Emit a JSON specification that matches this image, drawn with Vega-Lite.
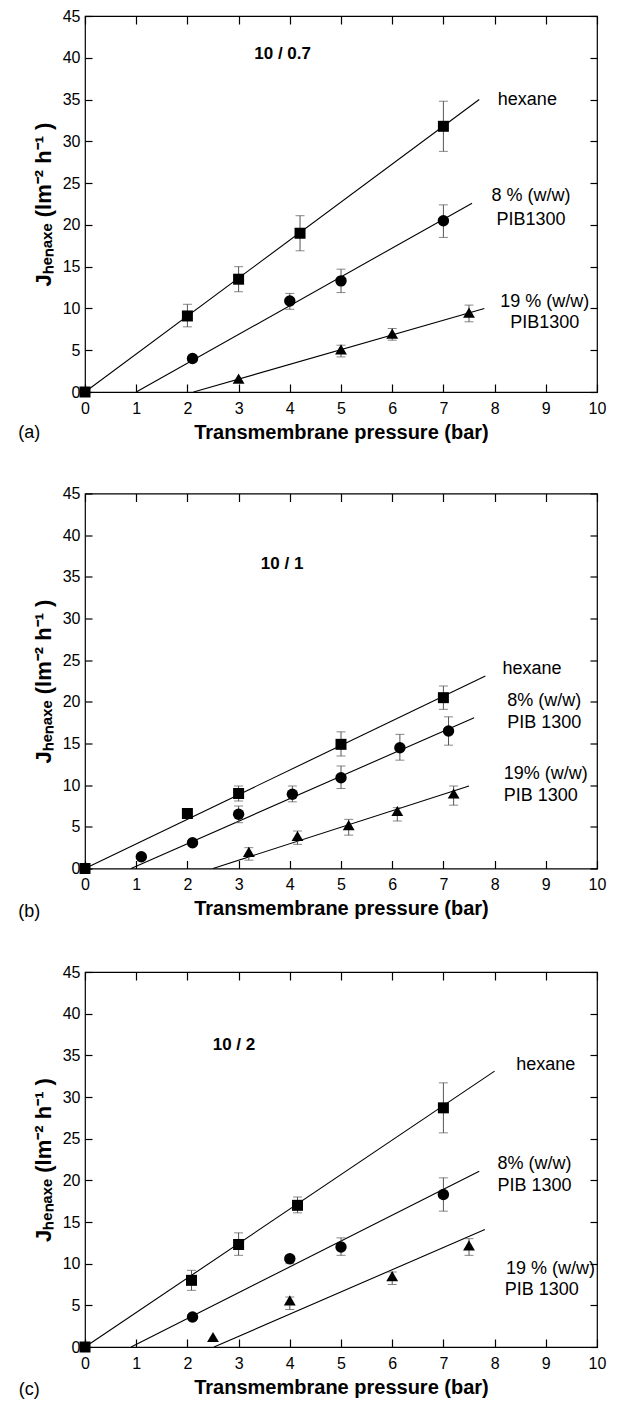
{
  "$schema": "https://vega.github.io/schema/vega-lite/v6.json",
  "padding": {"top": 7, "left": 17, "right": 0, "bottom": 0},
  "spacing": 41.5,
  "config": {
    "view": {"stroke": "black", "strokeWidth": 1.2},
    "font": "Liberation Sans",
    "axis": {"grid": false, "domain": false, "tickColor": "black", "tickWidth": 1.2, "labelColor": "black", "labelFont": "Liberation Sans", "labelFontSize": 16, "labelFlush": false, "titleColor": "black", "titleFont": "Liberation Sans", "titleFontWeight": "bold", "titleFontSize": 20}
  },
  "datasets": {
    "pts": [
      {"panel": "a", "series": "hexane", "p": 0, "J": 0},
      {"panel": "a", "series": "hexane", "p": 2, "J": 9.1, "lo": 7.8, "hi": 10.5},
      {"panel": "a", "series": "hexane", "p": 3, "J": 13.5, "lo": 12.0, "hi": 15.0},
      {"panel": "a", "series": "hexane", "p": 4.2, "J": 19.0, "lo": 16.9, "hi": 21.1},
      {"panel": "a", "series": "hexane", "p": 7, "J": 31.8, "lo": 28.8, "hi": 34.8},
      {"panel": "a", "series": "8%", "p": 2.1, "J": 4.0},
      {"panel": "a", "series": "8%", "p": 4.0, "J": 10.9, "lo": 9.9, "hi": 11.8},
      {"panel": "a", "series": "8%", "p": 5.0, "J": 13.3, "lo": 11.9, "hi": 14.7},
      {"panel": "a", "series": "8%", "p": 7.0, "J": 20.5, "lo": 18.5, "hi": 22.4},
      {"panel": "a", "series": "19%", "p": 3.0, "J": 1.6},
      {"panel": "a", "series": "19%", "p": 5.0, "J": 5.1, "lo": 4.2, "hi": 5.6},
      {"panel": "a", "series": "19%", "p": 6.0, "J": 7.0, "lo": 6.2, "hi": 7.6},
      {"panel": "a", "series": "19%", "p": 7.5, "J": 9.5, "lo": 8.4, "hi": 10.4},
      {"panel": "b", "series": "hexane", "p": 0, "J": 0},
      {"panel": "b", "series": "hexane", "p": 2.0, "J": 6.6},
      {"panel": "b", "series": "hexane", "p": 3.0, "J": 9.0, "lo": 8.1, "hi": 9.9},
      {"panel": "b", "series": "hexane", "p": 5.0, "J": 14.9, "lo": 13.5, "hi": 16.4},
      {"panel": "b", "series": "hexane", "p": 7.0, "J": 20.5, "lo": 19.1, "hi": 21.9},
      {"panel": "b", "series": "8%", "p": 1.1, "J": 1.4},
      {"panel": "b", "series": "8%", "p": 2.1, "J": 3.1},
      {"panel": "b", "series": "8%", "p": 3.0, "J": 6.5, "lo": 5.5, "hi": 7.5},
      {"panel": "b", "series": "8%", "p": 4.05, "J": 8.9, "lo": 8.0, "hi": 9.9},
      {"panel": "b", "series": "8%", "p": 5.0, "J": 10.9, "lo": 9.6, "hi": 12.3},
      {"panel": "b", "series": "8%", "p": 6.15, "J": 14.5, "lo": 13.0, "hi": 16.1},
      {"panel": "b", "series": "8%", "p": 7.1, "J": 16.5, "lo": 14.8, "hi": 18.2},
      {"panel": "b", "series": "19%", "p": 3.2, "J": 2.0, "lo": 1.0, "hi": 2.5},
      {"panel": "b", "series": "19%", "p": 4.15, "J": 3.9, "lo": 2.9, "hi": 4.5},
      {"panel": "b", "series": "19%", "p": 5.15, "J": 5.2, "lo": 4.0, "hi": 5.9},
      {"panel": "b", "series": "19%", "p": 6.1, "J": 6.9, "lo": 5.7, "hi": 7.3},
      {"panel": "b", "series": "19%", "p": 7.2, "J": 9.0, "lo": 7.6, "hi": 9.9},
      {"panel": "c", "series": "hexane", "p": 0, "J": 0},
      {"panel": "c", "series": "hexane", "p": 2.08, "J": 8.0, "lo": 6.8, "hi": 9.2},
      {"panel": "c", "series": "hexane", "p": 3.0, "J": 12.3, "lo": 11.0, "hi": 13.7},
      {"panel": "c", "series": "hexane", "p": 4.15, "J": 17.0, "lo": 16.1, "hi": 18.0},
      {"panel": "c", "series": "hexane", "p": 7.0, "J": 28.7, "lo": 25.7, "hi": 31.7},
      {"panel": "c", "series": "8%", "p": 2.1, "J": 3.6},
      {"panel": "c", "series": "8%", "p": 4.0, "J": 10.6, "lo": 10.0, "hi": 11.0},
      {"panel": "c", "series": "8%", "p": 5.0, "J": 12.0, "lo": 11.0, "hi": 13.1},
      {"panel": "c", "series": "8%", "p": 7.0, "J": 18.3, "lo": 16.3, "hi": 20.3},
      {"panel": "c", "series": "19%", "p": 2.5, "J": 1.2},
      {"panel": "c", "series": "19%", "p": 4.0, "J": 5.6, "lo": 4.5, "hi": 6.0},
      {"panel": "c", "series": "19%", "p": 6.0, "J": 8.5, "lo": 7.5, "hi": 9.0},
      {"panel": "c", "series": "19%", "p": 7.5, "J": 12.2, "lo": 11.0, "hi": 13.0}
    ],
    "fits": [
      {"panel": "a", "series": "hexane", "p": 0, "J": 0},
      {"panel": "a", "series": "hexane", "p": 7.7, "J": 35.0},
      {"panel": "a", "series": "8%", "p": 1.0, "J": 0},
      {"panel": "a", "series": "8%", "p": 7.56, "J": 22.6},
      {"panel": "a", "series": "19%", "p": 2.12, "J": 0},
      {"panel": "a", "series": "19%", "p": 7.8, "J": 10.0},
      {"panel": "b", "series": "hexane", "p": 0, "J": 0},
      {"panel": "b", "series": "hexane", "p": 7.82, "J": 23.1},
      {"panel": "b", "series": "8%", "p": 0.9, "J": 0},
      {"panel": "b", "series": "8%", "p": 7.6, "J": 18.1},
      {"panel": "b", "series": "19%", "p": 2.5, "J": 0},
      {"panel": "b", "series": "19%", "p": 7.5, "J": 9.9},
      {"panel": "c", "series": "hexane", "p": 0, "J": 0},
      {"panel": "c", "series": "hexane", "p": 8.0, "J": 33.1},
      {"panel": "c", "series": "8%", "p": 0.9, "J": 0},
      {"panel": "c", "series": "8%", "p": 7.7, "J": 21.1},
      {"panel": "c", "series": "19%", "p": 2.52, "J": 0},
      {"panel": "c", "series": "19%", "p": 7.81, "J": 14.1}
    ],
    "labels": [
      {"panel": "a", "kind": "series", "p": 8.64, "J": 35.0, "text": "hexane"},
      {"panel": "a", "kind": "series", "p": 8.71, "J": 23.4, "text": "8 % (w/w)"},
      {"panel": "a", "kind": "series", "p": 8.71, "J": 20.6, "text": "PIB1300"},
      {"panel": "a", "kind": "series", "p": 8.98, "J": 10.8, "text": "19 % (w/w)"},
      {"panel": "a", "kind": "series", "p": 8.98, "J": 8.3, "text": "PIB1300"},
      {"panel": "a", "kind": "title", "p": 3.86, "J": 40.5, "text": "10 / 0.7"},
      {"panel": "a", "kind": "tag", "p": -1.09, "J": -4.9, "text": "(a)"},
      {"panel": "b", "kind": "series", "p": 8.73, "J": 23.9, "text": "hexane"},
      {"panel": "b", "kind": "series", "p": 8.97, "J": 20.1, "text": "8% (w/w)"},
      {"panel": "b", "kind": "series", "p": 8.97, "J": 17.5, "text": "PIB 1300"},
      {"panel": "b", "kind": "series", "p": 9.0, "J": 11.3, "text": "19% (w/w)"},
      {"panel": "b", "kind": "series", "p": 8.9, "J": 8.7, "text": "PIB 1300"},
      {"panel": "b", "kind": "title", "p": 3.85, "J": 36.5, "text": "10 / 1"},
      {"panel": "b", "kind": "tag", "p": -1.09, "J": -5.2, "text": "(b)"},
      {"panel": "c", "kind": "series", "p": 9.0, "J": 33.8, "text": "hexane"},
      {"panel": "c", "kind": "series", "p": 8.78, "J": 22.0, "text": "8% (w/w)"},
      {"panel": "c", "kind": "series", "p": 8.78, "J": 19.3, "text": "PIB 1300"},
      {"panel": "c", "kind": "series", "p": 9.09, "J": 9.4, "text": "19 % (w/w)"},
      {"panel": "c", "kind": "series", "p": 8.92, "J": 6.9, "text": "PIB 1300"},
      {"panel": "c", "kind": "title", "p": 2.91, "J": 36.3, "text": "10 / 2"},
      {"panel": "c", "kind": "tag", "p": -1.09, "J": -5.2, "text": "(c)"}
    ]
  },
  "vconcat": [
    {
      "width": 512, "height": 376,
      "resolve": {"axis": {"x": "independent", "y": "independent"}},
      "layer": [
        {
          "data": {"name": "fits"},
          "transform": [{"filter": "datum.panel === 'a'"}],
          "mark": {"type": "line", "color": "black", "strokeWidth": 1.1},
          "encoding": {
            "x": {"field": "p", "type": "quantitative", "scale": {"domain": [0, 10], "nice": false, "zero": false}, "axis": {"orient": "bottom", "values": [0,1,2,3,4,5,6,7,8,9,10], "tickSize": -8, "labelPadding": 16, "title": "Transmembrane pressure (bar)", "titlePadding": 6}},
            "y": {"field": "J", "type": "quantitative", "scale": {"domain": [0, 45], "nice": false}, "axis": {"orient": "left", "values": [0,5,10,15,20,25,30,35,40,45], "tickSize": -7, "labelPadding": 12, "title": "Jₕₑₙₐₓₑ (lm⁻² h⁻¹ )", "titleFontSize": 22, "titlePadding": 7}},
            "detail": {"field": "series"}
          }
        },
        {
          "data": {"name": "pts"},
          "transform": [{"filter": "datum.panel === 'a' && isValid(datum.lo)"}],
          "mark": {"type": "rule", "color": "#555", "strokeWidth": 1},
          "encoding": {
            "x": {"field": "p", "type": "quantitative", "axis": {"orient": "top", "values": [0,1,2,3,4,5,6,7,8,9,10], "tickSize": -8, "labels": false, "title": null}},
            "y": {"field": "lo", "type": "quantitative", "axis": {"orient": "right", "values": [0,5,10,15,20,25,30,35,40,45], "tickSize": -7, "labels": false, "title": null}},
            "y2": {"field": "hi"}
          }
        },
        {
          "data": {"name": "pts"},
          "transform": [{"filter": "datum.panel === 'a' && isValid(datum.lo)"}],
          "mark": {"type": "tick", "orient": "horizontal", "color": "#555", "size": 9, "thickness": 1},
          "encoding": {"x": {"field": "p", "type": "quantitative", "axis": null}, "y": {"field": "lo", "type": "quantitative", "axis": null}}
        },
        {
          "data": {"name": "pts"},
          "transform": [{"filter": "datum.panel === 'a' && isValid(datum.hi)"}],
          "mark": {"type": "tick", "orient": "horizontal", "color": "#555", "size": 9, "thickness": 1},
          "encoding": {"x": {"field": "p", "type": "quantitative", "axis": null}, "y": {"field": "hi", "type": "quantitative", "axis": null}}
        },
        {
          "data": {"name": "pts"},
          "transform": [{"filter": "datum.panel === 'a'"}],
          "mark": {"type": "point", "filled": true, "color": "black", "opacity": 1},
          "encoding": {
            "x": {"field": "p", "type": "quantitative", "axis": null},
            "y": {"field": "J", "type": "quantitative", "axis": null},
            "shape": {"field": "series", "type": "nominal", "scale": {"domain": ["hexane", "8%", "19%"], "range": ["square", "circle", "triangle-up"]}, "legend": null},
            "size": {"field": "series", "type": "nominal", "scale": {"domain": ["hexane", "8%", "19%"], "range": [121, 140, 300]}, "legend": null}
          }
        },
        {
          "data": {"name": "labels"},
          "transform": [{"filter": "datum.panel === 'a' && datum.kind === 'series'"}],
          "mark": {"type": "text", "font": "Liberation Sans", "fontSize": 18, "color": "black", "align": "center", "baseline": "middle"},
          "encoding": {"x": {"field": "p", "type": "quantitative", "axis": null}, "y": {"field": "J", "type": "quantitative", "axis": null}, "text": {"field": "text"}}
        },
        {
          "data": {"name": "labels"},
          "transform": [{"filter": "datum.panel === 'a' && datum.kind === 'title'"}],
          "mark": {"type": "text", "font": "Liberation Sans", "fontSize": 17, "fontWeight": "bold", "color": "black", "align": "center", "baseline": "middle"},
          "encoding": {"x": {"field": "p", "type": "quantitative", "axis": null}, "y": {"field": "J", "type": "quantitative", "axis": null}, "text": {"field": "text"}}
        },
        {
          "data": {"name": "labels"},
          "transform": [{"filter": "datum.panel === 'a' && datum.kind === 'tag'"}],
          "mark": {"type": "text", "font": "Liberation Sans", "fontSize": 18, "color": "black", "align": "center", "baseline": "middle"},
          "encoding": {"x": {"field": "p", "type": "quantitative", "axis": null}, "y": {"field": "J", "type": "quantitative", "axis": null}, "text": {"field": "text"}}
        }
      ]
    },
    {
      "width": 512, "height": 375,
      "resolve": {"axis": {"x": "independent", "y": "independent"}},
      "layer": [
        {
          "data": {"name": "fits"},
          "transform": [{"filter": "datum.panel === 'b'"}],
          "mark": {"type": "line", "color": "black", "strokeWidth": 1.1},
          "encoding": {
            "x": {"field": "p", "type": "quantitative", "scale": {"domain": [0, 10], "nice": false, "zero": false}, "axis": {"orient": "bottom", "values": [0,1,2,3,4,5,6,7,8,9,10], "tickSize": -8, "labelPadding": 16, "title": "Transmembrane pressure (bar)", "titlePadding": 6}},
            "y": {"field": "J", "type": "quantitative", "scale": {"domain": [0, 45], "nice": false}, "axis": {"orient": "left", "values": [0,5,10,15,20,25,30,35,40,45], "tickSize": -7, "labelPadding": 12, "title": "Jₕₑₙₐₓₑ (lm⁻² h⁻¹ )", "titleFontSize": 22, "titlePadding": 7}},
            "detail": {"field": "series"}
          }
        },
        {
          "data": {"name": "pts"},
          "transform": [{"filter": "datum.panel === 'b' && isValid(datum.lo)"}],
          "mark": {"type": "rule", "color": "#555", "strokeWidth": 1},
          "encoding": {
            "x": {"field": "p", "type": "quantitative", "axis": {"orient": "top", "values": [0,1,2,3,4,5,6,7,8,9,10], "tickSize": -8, "labels": false, "title": null}},
            "y": {"field": "lo", "type": "quantitative", "axis": {"orient": "right", "values": [0,5,10,15,20,25,30,35,40,45], "tickSize": -7, "labels": false, "title": null}},
            "y2": {"field": "hi"}
          }
        },
        {
          "data": {"name": "pts"},
          "transform": [{"filter": "datum.panel === 'b' && isValid(datum.lo)"}],
          "mark": {"type": "tick", "orient": "horizontal", "color": "#555", "size": 9, "thickness": 1},
          "encoding": {"x": {"field": "p", "type": "quantitative", "axis": null}, "y": {"field": "lo", "type": "quantitative", "axis": null}}
        },
        {
          "data": {"name": "pts"},
          "transform": [{"filter": "datum.panel === 'b' && isValid(datum.hi)"}],
          "mark": {"type": "tick", "orient": "horizontal", "color": "#555", "size": 9, "thickness": 1},
          "encoding": {"x": {"field": "p", "type": "quantitative", "axis": null}, "y": {"field": "hi", "type": "quantitative", "axis": null}}
        },
        {
          "data": {"name": "pts"},
          "transform": [{"filter": "datum.panel === 'b'"}],
          "mark": {"type": "point", "filled": true, "color": "black", "opacity": 1},
          "encoding": {
            "x": {"field": "p", "type": "quantitative", "axis": null},
            "y": {"field": "J", "type": "quantitative", "axis": null},
            "shape": {"field": "series", "type": "nominal", "scale": {"domain": ["hexane", "8%", "19%"], "range": ["square", "circle", "triangle-up"]}, "legend": null},
            "size": {"field": "series", "type": "nominal", "scale": {"domain": ["hexane", "8%", "19%"], "range": [121, 140, 300]}, "legend": null}
          }
        },
        {
          "data": {"name": "labels"},
          "transform": [{"filter": "datum.panel === 'b' && datum.kind === 'series'"}],
          "mark": {"type": "text", "font": "Liberation Sans", "fontSize": 18, "color": "black", "align": "center", "baseline": "middle"},
          "encoding": {"x": {"field": "p", "type": "quantitative", "axis": null}, "y": {"field": "J", "type": "quantitative", "axis": null}, "text": {"field": "text"}}
        },
        {
          "data": {"name": "labels"},
          "transform": [{"filter": "datum.panel === 'b' && datum.kind === 'title'"}],
          "mark": {"type": "text", "font": "Liberation Sans", "fontSize": 17, "fontWeight": "bold", "color": "black", "align": "center", "baseline": "middle"},
          "encoding": {"x": {"field": "p", "type": "quantitative", "axis": null}, "y": {"field": "J", "type": "quantitative", "axis": null}, "text": {"field": "text"}}
        },
        {
          "data": {"name": "labels"},
          "transform": [{"filter": "datum.panel === 'b' && datum.kind === 'tag'"}],
          "mark": {"type": "text", "font": "Liberation Sans", "fontSize": 18, "color": "black", "align": "center", "baseline": "middle"},
          "encoding": {"x": {"field": "p", "type": "quantitative", "axis": null}, "y": {"field": "J", "type": "quantitative", "axis": null}, "text": {"field": "text"}}
        }
      ]
    },
    {
      "width": 512, "height": 375,
      "resolve": {"axis": {"x": "independent", "y": "independent"}},
      "layer": [
        {
          "data": {"name": "fits"},
          "transform": [{"filter": "datum.panel === 'c'"}],
          "mark": {"type": "line", "color": "black", "strokeWidth": 1.1},
          "encoding": {
            "x": {"field": "p", "type": "quantitative", "scale": {"domain": [0, 10], "nice": false, "zero": false}, "axis": {"orient": "bottom", "values": [0,1,2,3,4,5,6,7,8,9,10], "tickSize": -8, "labelPadding": 16, "title": "Transmembrane pressure (bar)", "titlePadding": 6}},
            "y": {"field": "J", "type": "quantitative", "scale": {"domain": [0, 45], "nice": false}, "axis": {"orient": "left", "values": [0,5,10,15,20,25,30,35,40,45], "tickSize": -7, "labelPadding": 12, "title": "Jₕₑₙₐₓₑ (lm⁻² h⁻¹ )", "titleFontSize": 22, "titlePadding": 7}},
            "detail": {"field": "series"}
          }
        },
        {
          "data": {"name": "pts"},
          "transform": [{"filter": "datum.panel === 'c' && isValid(datum.lo)"}],
          "mark": {"type": "rule", "color": "#555", "strokeWidth": 1},
          "encoding": {
            "x": {"field": "p", "type": "quantitative", "axis": {"orient": "top", "values": [0,1,2,3,4,5,6,7,8,9,10], "tickSize": -8, "labels": false, "title": null}},
            "y": {"field": "lo", "type": "quantitative", "axis": {"orient": "right", "values": [0,5,10,15,20,25,30,35,40,45], "tickSize": -7, "labels": false, "title": null}},
            "y2": {"field": "hi"}
          }
        },
        {
          "data": {"name": "pts"},
          "transform": [{"filter": "datum.panel === 'c' && isValid(datum.lo)"}],
          "mark": {"type": "tick", "orient": "horizontal", "color": "#555", "size": 9, "thickness": 1},
          "encoding": {"x": {"field": "p", "type": "quantitative", "axis": null}, "y": {"field": "lo", "type": "quantitative", "axis": null}}
        },
        {
          "data": {"name": "pts"},
          "transform": [{"filter": "datum.panel === 'c' && isValid(datum.hi)"}],
          "mark": {"type": "tick", "orient": "horizontal", "color": "#555", "size": 9, "thickness": 1},
          "encoding": {"x": {"field": "p", "type": "quantitative", "axis": null}, "y": {"field": "hi", "type": "quantitative", "axis": null}}
        },
        {
          "data": {"name": "pts"},
          "transform": [{"filter": "datum.panel === 'c'"}],
          "mark": {"type": "point", "filled": true, "color": "black", "opacity": 1},
          "encoding": {
            "x": {"field": "p", "type": "quantitative", "axis": null},
            "y": {"field": "J", "type": "quantitative", "axis": null},
            "shape": {"field": "series", "type": "nominal", "scale": {"domain": ["hexane", "8%", "19%"], "range": ["square", "circle", "triangle-up"]}, "legend": null},
            "size": {"field": "series", "type": "nominal", "scale": {"domain": ["hexane", "8%", "19%"], "range": [121, 140, 300]}, "legend": null}
          }
        },
        {
          "data": {"name": "labels"},
          "transform": [{"filter": "datum.panel === 'c' && datum.kind === 'series'"}],
          "mark": {"type": "text", "font": "Liberation Sans", "fontSize": 18, "color": "black", "align": "center", "baseline": "middle"},
          "encoding": {"x": {"field": "p", "type": "quantitative", "axis": null}, "y": {"field": "J", "type": "quantitative", "axis": null}, "text": {"field": "text"}}
        },
        {
          "data": {"name": "labels"},
          "transform": [{"filter": "datum.panel === 'c' && datum.kind === 'title'"}],
          "mark": {"type": "text", "font": "Liberation Sans", "fontSize": 17, "fontWeight": "bold", "color": "black", "align": "center", "baseline": "middle"},
          "encoding": {"x": {"field": "p", "type": "quantitative", "axis": null}, "y": {"field": "J", "type": "quantitative", "axis": null}, "text": {"field": "text"}}
        },
        {
          "data": {"name": "labels"},
          "transform": [{"filter": "datum.panel === 'c' && datum.kind === 'tag'"}],
          "mark": {"type": "text", "font": "Liberation Sans", "fontSize": 18, "color": "black", "align": "center", "baseline": "middle"},
          "encoding": {"x": {"field": "p", "type": "quantitative", "axis": null}, "y": {"field": "J", "type": "quantitative", "axis": null}, "text": {"field": "text"}}
        }
      ]
    }
  ]
}
